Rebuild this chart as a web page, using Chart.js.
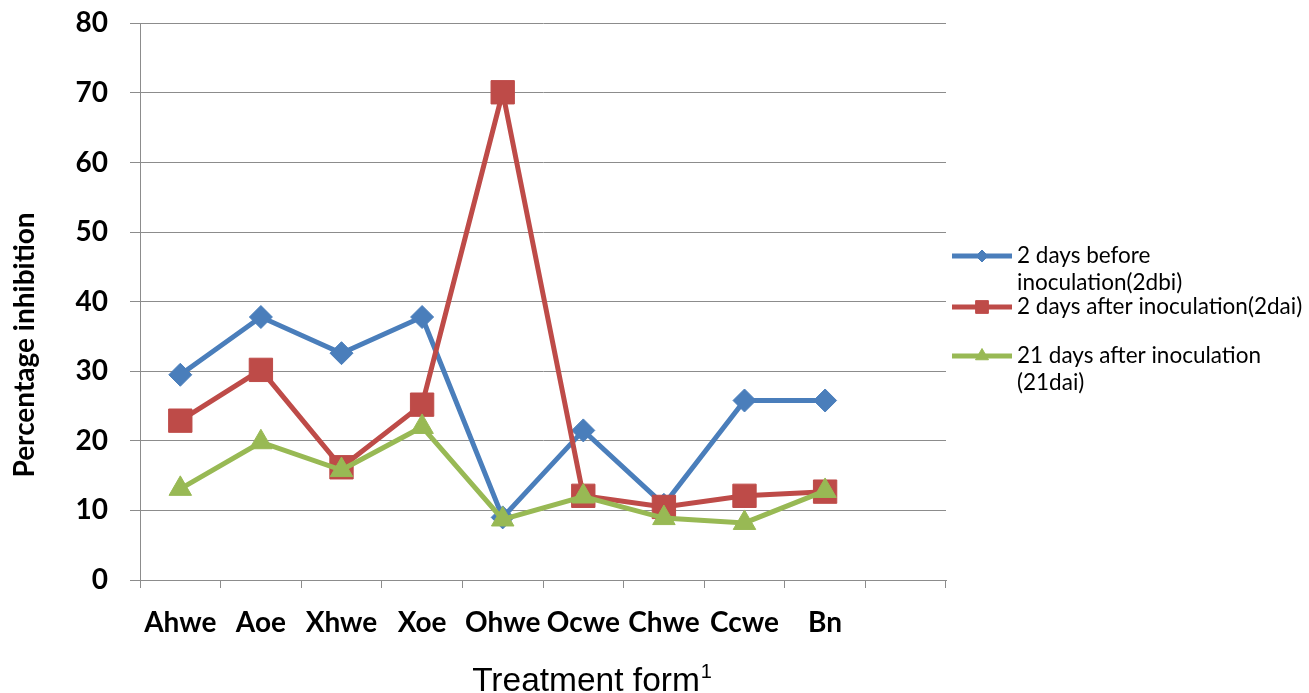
<!DOCTYPE html>
<html>
<head>
<meta charset="utf-8">
<script src="https://cdn.jsdelivr.net/npm/chart.js@4/dist/chart.umd.min.js"></script>
<style>
  html, body { margin: 0; padding: 0; background: #fff; }
  #wrap { width: 1309px; height: 693px; position: relative; }
</style>
</head>
<body>
<div id="wrap"><canvas id="c" width="1309" height="693"></canvas></div>
<script>
// Treatment forms along the x axis (last slot left empty)
const categories = ['Ahwe', 'Aoe', 'Xhwe', 'Xoe', 'Ohwe', 'Ocwe', 'Chwe', 'Ccwe', 'Bn', ''];

// Percentage inhibition per treatment form
const before2dbi = [29.5, 37.8, 32.6, 37.8, 9.0, 21.5, 10.8, 25.8, 25.8];
const after2dai  = [22.9, 30.2, 16.2, 25.2, 70.1, 12.1, 10.5, 12.1, 12.7];
const after21dai = [13.1, 19.8, 15.8, 22.0, 8.7, 12.0, 8.9, 8.2, 12.8];

// Legend texts, one array of lines per series
const seriesLabels = [
  ['2 days before', 'inoculation(2dbi)'],
  ['2 days after inoculation(2dai)'],
  ['21 days after inoculation', '(21dai)']
];

const yTitle = 'Percentage inhibition';
const xTitle = 'Treatment form';
const xTitleSup = '1';

const BLUE = '#4A7EBB', RED = '#BE4B48', GREEN = '#98B954';
const GRID = '#8C8C8C';

// Draws the axis titles and the legend on the right
const decorations = {
  id: 'decorations',
  afterDraw(chart) {
    const ctx = chart.ctx;
    ctx.save();
    ctx.fillStyle = '#000';

    // y axis title, rotated
    ctx.font = 'bold 28px Lato';
    ctx.translate(25, 345);
    ctx.rotate(-Math.PI / 2);
    ctx.textAlign = 'center';
    ctx.textBaseline = 'middle';
    ctx.fillText(yTitle, 0, 0);
    ctx.setTransform(1, 0, 0, 1, 0, 0);

    // x axis title with superscript
    ctx.font = '33.5px "Liberation Sans"';
    ctx.textAlign = 'left';
    ctx.textBaseline = 'alphabetic';
    const w = ctx.measureText(xTitle).width;
    const x0 = 586 - w / 2;
    ctx.fillText(xTitle, x0, 691);
    ctx.font = '20px "Liberation Sans"';
    ctx.fillText(xTitleSup, x0 + w + 1, 678);

    // legend
    const rows = [
      { y: 256, lineGap: 27 },
      { y: 307, lineGap: 27 },
      { y: 356, lineGap: 27 }
    ];
    const markers = [
      { pointStyle: 'rectRot', radius: 6 },
      { pointStyle: 'rect', radius: 9 },
      { pointStyle: 'triangle', radius: 7.5 }
    ];
    chart.data.datasets.forEach((ds, i) => {
      const r = rows[i];
      ctx.strokeStyle = ds.borderColor;
      ctx.lineWidth = 5;
      ctx.lineCap = 'butt';
      ctx.beginPath();
      ctx.moveTo(952, r.y);
      ctx.lineTo(1012, r.y);
      ctx.stroke();
      ctx.fillStyle = ds.borderColor;
      ctx.strokeStyle = ds.borderColor;
      ctx.lineWidth = 1;
      Chart.helpers.drawPoint(ctx, { pointStyle: markers[i].pointStyle, radius: markers[i].radius, rotation: 0, borderWidth: 1 }, 982, r.y);
      ctx.fillStyle = '#000';
      ctx.font = '22.5px Lato';
      ctx.textAlign = 'left';
      ctx.textBaseline = 'middle';
      seriesLabels[i].forEach((line, k) => {
        ctx.fillText(line, 1017, r.y + k * r.lineGap);
      });
    });
    ctx.restore();
  }
};

new Chart(document.getElementById('c'), {
  type: 'line',
  data: {
    labels: categories,
    datasets: [
      {
        label: seriesLabels[0].join(' '),
        data: before2dbi,
        borderColor: BLUE, backgroundColor: BLUE,
        pointStyle: 'rectRot', pointRadius: 11.5,
        order: 3
      },
      {
        label: seriesLabels[1].join(' '),
        data: after2dai,
        borderColor: RED, backgroundColor: RED,
        pointStyle: 'rect', pointRadius: 16.5,
        order: 2
      },
      {
        label: seriesLabels[2].join(' '),
        data: after21dai,
        borderColor: GREEN, backgroundColor: GREEN,
        pointStyle: 'triangle', pointRadius: 13,
        order: 1
      }
    ]
  },
  options: {
    responsive: false,
    animation: false,
    devicePixelRatio: 1,
    layout: { padding: { left: 0, top: 20.6, right: 363, bottom: 0 } },
    elements: {
      line: { borderWidth: 5, tension: 0 },
      point: { borderWidth: 1, hoverRadius: 12 }
    },
    plugins: {
      legend: { display: false },
      tooltip: { enabled: false }
    },
    scales: {
      x: {
        offset: true,
        grid: { offset: true, drawOnChartArea: false, drawTicks: true, tickLength: 8, color: GRID, lineWidth: 1 },
        border: { display: true, color: GRID, width: 1 },
        ticks: {
          autoSkip: false, maxRotation: 0, minRotation: 0,
          color: '#000', padding: 18,
          font: { family: 'Lato', size: 28, weight: 'bold' }
        },
        afterFit(scale) { scale.height = 113; }
      },
      y: {
        min: 0, max: 80,
        grid: { color: GRID, lineWidth: 1, tickLength: 10 },
        border: { display: true, color: GRID, width: 1 },
        ticks: {
          stepSize: 10, color: '#000', padding: 22,
          font: { family: 'Lato', size: 28, weight: 'bold', lineHeight: 0.1 }
        },
        afterFit(scale) { scale.width = 140; }
      }
    }
  },
  plugins: [decorations]
});
</script>
</body>
</html>
